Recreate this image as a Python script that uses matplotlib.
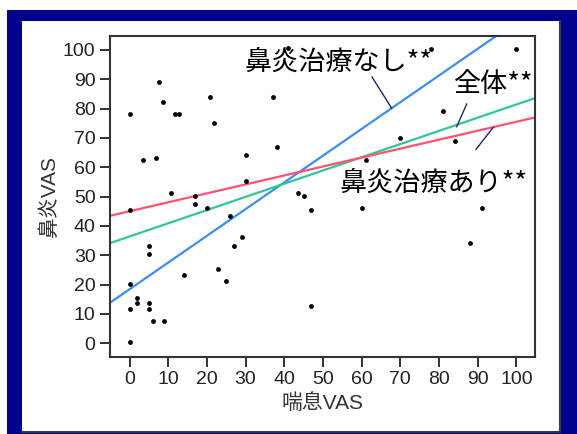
import matplotlib
matplotlib.use("Agg")
import matplotlib.pyplot as plt
from matplotlib.patches import Rectangle
from matplotlib.lines import Line2D

# 喘息VAS (x) と 鼻炎VAS (y)
asthma_vas = [0, 17, 20, 26, 29, 27, 5, 5, 14, 23, 25, 0, 2, 2, 5, 0, 5, 6, 9, 0,
              0, 3.6, 6.8, 7.7, 8.7, 11.8, 12.9, 10.7, 17, 20.8, 21.9, 30, 30,
              41, 37, 38, 61, 43.6, 45, 78, 100, 81, 70, 84, 47, 60, 47, 91, 88]
rhinitis_vas = [45.4, 47.4, 46.2, 43.4, 36.3, 33.3, 33.3, 30.3, 23.3, 25.3, 21.3, 20.3,
                15.5, 13.6, 13.6, 11.6, 11.6, 7.6, 7.6, 0.5,
                78, 62.3, 63.3, 89.2, 82.2, 78, 78, 51.3, 50.3, 84.1, 75, 64.2, 55.3,
                100.5, 84.1, 67, 62.5, 51.1, 50.3, 100.2, 100.2, 79.2, 70.1, 69.1,
                45.3, 46.2, 12.7, 46.2, 34.3]

# 回帰直線: 切片と傾き
fit_names = ["鼻炎治療なし**", "全体**", "鼻炎治療あり**"]
fit_intercepts = [18.4, 36.4, 45.0]
fit_slopes = [0.911, 0.450, 0.305]
fit_colors = ["#3D8EF0", "#2FC794", "#FF5272"]

x_ticks = [0, 10, 20, 30, 40, 50, 60, 70, 80, 90, 100]
y_ticks = [0, 10, 20, 30, 40, 50, 60, 70, 80, 90, 100]

W, H = 577, 434
fig = plt.figure(figsize=(W / 100, H / 100), dpi=100)
fig.patch.set_facecolor("white")

# 紺色の枠と白いパネル
fig.add_artist(Rectangle((7 / W, 0), 1 - 7 / W, (H - 10) / H,
                         transform=fig.transFigure, facecolor="#00008C",
                         edgecolor="none", zorder=0))
fig.add_artist(Rectangle((22 / W, 3 / H), (559 - 22) / W, (413 - 3) / H,
                         transform=fig.transFigure, facecolor="white",
                         edgecolor="none", zorder=1))
fig.add_artist(Line2D([559.5 / W, 559.5 / W], [3 / H, 413 / H],
                      transform=fig.transFigure, color="#3A3A3A", lw=1.5, zorder=2))
fig.add_artist(Line2D([22 / W, 560 / W], [2.5 / H, 2.5 / H],
                      transform=fig.transFigure, color="#3A3A3A", lw=1.5, zorder=2))

ax = fig.add_axes([109.5 / W, (H - 356.7) / H, (535 - 109.5) / W, (356.7 - 35.5) / H])
ax.set_zorder(3)
ax.set_xlim(-5.17, 104.8)
ax.set_ylim(-4.57, 104.9)

for b, m, c in zip(fit_intercepts, fit_slopes, fit_colors):
    ax.axline((0, b), slope=m, color=c, lw=1.6, zorder=2)

ax.scatter(asthma_vas, rhinitis_vas, s=12, color="black", zorder=3, linewidths=0)

ax.set_xticks(x_ticks)
ax.set_yticks(y_ticks)
num_font = ["Liberation Sans", "Noto Sans CJK JP"]
ax.set_xticklabels([str(v) for v in x_ticks], fontsize=14, family=num_font, color="#222222")
ax.set_yticklabels([str(v) for v in y_ticks], fontsize=14, family=num_font, color="#222222")
ax.tick_params(direction="out", length=7, width=1.3, color="#222222", pad=3)
for s in ax.spines.values():
    s.set_color("#333333")
    s.set_linewidth(1.5)

ax.set_xlabel("喘息VAS", fontsize=15, family=num_font, color="#333333", labelpad=4)
ax.set_ylabel("鼻炎VAS", fontsize=15, family=num_font, color="#333333", labelpad=3)

# 注記と引き出し線
label_font = ["Noto Sans CJK JP", "DejaVu Sans"]
label_pos = [(339, 62), (493, 85), (434, 183)]
leader_px = [((372, 77), (391.7, 108.3)), ((466.7, 104), (456.7, 126.7)),
             ((493.3, 127.3), (476, 149.3))]
to_data = ax.transData.inverted()
for name, (px, py), ((x0, y0), (x1, y1)) in zip(fit_names, label_pos, leader_px):
    tx, ty = to_data.transform((px, H - py))
    ax.text(tx, ty, name, fontsize=19.5, family=label_font, color="black",
            ha="center", va="center", zorder=4)
    a = to_data.transform((x0, H - y0))
    b = to_data.transform((x1, H - y1))
    ax.plot([a[0], b[0]], [a[1], b[1]], color="#262660", lw=1.0, zorder=4)

fig.savefig("out.png", dpi=100)
